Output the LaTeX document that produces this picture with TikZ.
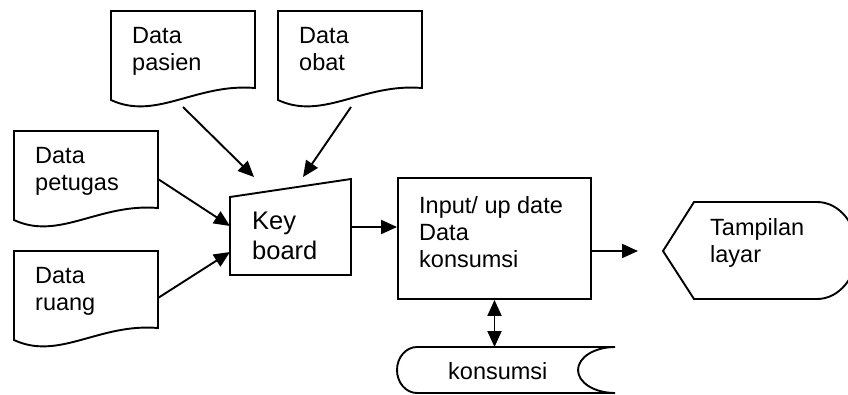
\documentclass[tikz,border=0pt]{standalone}
\usepackage{fontspec}
\setmainfont{Liberation Sans}
\usetikzlibrary{arrows.meta}

\tikzset{
  shape line/.style={line width=1.9pt, line join=miter},
  flow/.style={line width=1.9pt, -{Triangle[length=16pt,width=14pt]}},
  both flow/.style={line width=1.9pt, {Triangle[length=16pt,width=14pt]}-{Triangle[length=16pt,width=14pt]}},
  % anchored at the baseline of the last line
  label text/.style={anchor=base west, inner sep=0pt, align=left,
    font=\fontsize{23.5}{27}\selectfont},
}

\begin{document}
\begin{tikzpicture}[x=1pt,y=-1pt]
  \useasboundingbox (0,0) rectangle (848,394);

  % documents: left, top, name, second line
  \foreach \x/\y/\n/\txt in {111/11/pasien/pasien, 278/11/obat/obat,
                             14/131/petugas/petugas, 14/251/ruang/ruang} {
    \draw[shape line] (\x,\y) -- ++(144,0) -- ++(0,77)
      .. controls +(-59,-5) and +(45,21) .. (\x,\y+89) -- cycle;
    \node[label text] (\n) at (\x+21,\y+59) {Data\\\txt};
  }

  % manual input
  \draw[shape line] (230,197) -- (351,179) -- (351,275) -- (230,275) -- cycle;
  \node[label text, font=\fontsize{25.5}{30}\selectfont] (kb) at (252,259) {Key\\board};

  % process
  \node[draw, shape line, minimum width=193pt, minimum height=121pt, inner sep=0pt]
    (proc) at (494.5,238.5) {};
  \node[label text] (proc-text) at (419,267) {Input/ up date\\Data\\konsumsi};

  % display
  \draw[shape line] (663,251) -- (694,202) -- (817,202)
    arc[start angle=-90, end angle=90, x radius=40, y radius=48.5] -- (694,299) -- cycle;
  \node[label text] (disp) at (710,262) {Tampilan\\layar};

  % stored data
  \draw[shape line] (615,347) -- (417,347)
    arc[start angle=-90, end angle=-270, x radius=20, y radius=23] -- (615,393)
    arc[start angle=90, end angle=270, x radius=37, y radius=23];
  \node[label text] (store) at (448,379) {konsumsi};

  % connector ends
  \coordinate (pasien-out) at (183,107);
  \coordinate (obat-out) at (351,107);
  \coordinate (petugas-out) at (158,179);
  \coordinate (ruang-out) at (158,298);
  \coordinate (kb-in-a) at (254,177);
  \coordinate (kb-in-b) at (303,177);
  \coordinate (kb-in-c) at (230,226);
  \coordinate (kb-in-d) at (230,252);
  \coordinate (kb-out) at (351,227);
  \coordinate (disp-in) at (638,251);
  \coordinate (store-top) at (494.5,347);

  % flows
  \draw[flow] (pasien-out) -- (kb-in-a);
  \draw[flow] (obat-out) -- (kb-in-b);
  \draw[flow] (petugas-out) -- (kb-in-c);
  \draw[flow] (ruang-out) -- (kb-in-d);
  \draw[flow] (kb-out) -- (proc.west |- kb-out);
  \draw[flow] (proc.east |- disp-in) -- (disp-in);
  \draw[both flow] (proc.south) -- (store-top);
\end{tikzpicture}
\end{document}
